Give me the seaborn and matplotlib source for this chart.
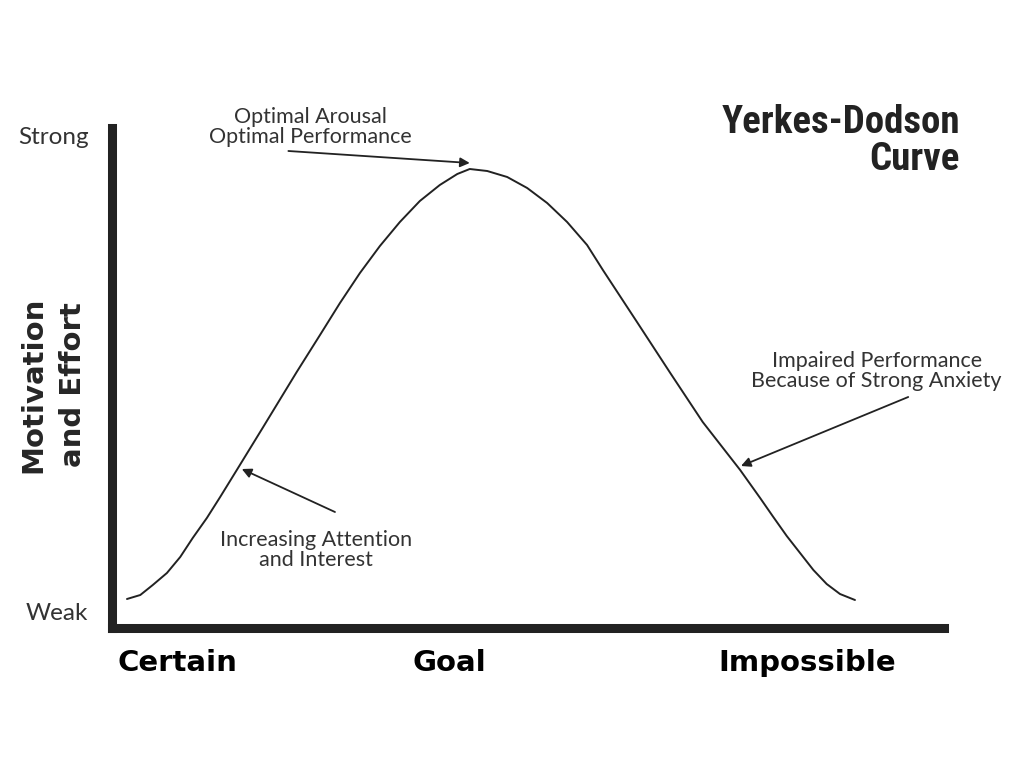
import matplotlib
matplotlib.use("Agg")
import matplotlib.pyplot as plt
import seaborn as sns
import pandas as pd

# Curve: x = goal difficulty (0-100), y = motivation (0-100)
difficulty = [1.8, 3.4, 4.9, 6.6, 8.2, 9.7, 11.4, 13.0, 15.0, 18.1, 22.2, 25.0, 27.4,
              29.8, 32.2, 34.6, 37.0, 39.4, 41.5, 43.0, 45.1, 47.5, 49.9, 52.3, 54.7,
              57.1, 59.0, 63.1, 67.1, 71.0, 75.5, 77.9, 79.4, 81.1, 82.7, 84.3, 85.9,
              87.5, 89.3]
motivation = [5.8, 6.6, 8.6, 11.0, 14.2, 18.0, 22.0, 26.2, 31.6, 40.0, 51.2, 58.6, 65.0,
              71.0, 76.4, 81.2, 85.4, 88.6, 90.8, 91.8, 91.4, 90.2, 88.0, 85.0, 81.2,
              76.6, 71.6, 61.2, 51.0, 41.2, 31.6, 26.0, 22.4, 18.4, 15.0, 11.6, 8.8,
              6.8, 5.6]

x_tick_pos = [7.9, 40.5, 83.5]
x_tick_labels = ["Certain", "Goal", "Impossible"]
y_tick_pos = [3.2, 98.6]
y_tick_labels = ["Weak", "Strong"]

# annotation text, text anchor, arrow tail, arrow tip
notes = [
    ("Optimal Arousal\nOptimal Performance", (23.8, 100.2), (21.2, 95.4), (43.0, 93.0)),
    ("Increasing Attention\nand Interest", (24.5, 15.6), (26.8, 23.2), (15.6, 31.8)),
    ("Impaired Performance\nBecause of Strong Anxiety", (91.9, 51.4), (95.7, 46.2), (75.6, 32.4)),
]

df = pd.DataFrame({"difficulty": difficulty, "motivation": motivation})

sns.set_theme(style="white")
plt.rcParams["font.family"] = ["Lato", "DejaVu Sans"]

W, H = 1024, 768
fig = plt.figure(figsize=(10.24, 7.68), dpi=100)
# axes box in pixels: left 112, right 944, top 128, bottom 628
ax = fig.add_axes([112 / W, (H - 628) / H, (944 - 112) / W, (628 - 128) / H])

sns.lineplot(data=df, x="difficulty", y="motivation", color="#222222", linewidth=1.4, ax=ax)

ax.set_xlim(0, 100)
ax.set_ylim(0, 100)

for side in ["top", "right"]:
    ax.spines[side].set_visible(False)
for side in ["left", "bottom"]:
    ax.spines[side].set_linewidth(6.5)
    ax.spines[side].set_color("#222222")
    ax.spines[side].set_capstyle("projecting")

ax.set_xticks(x_tick_pos)
ax.set_xticklabels(x_tick_labels, fontsize=21, fontweight="bold",
                   family=["DejaVu Sans"], color="black")
ax.set_yticks(y_tick_pos)
ax.set_yticklabels(y_tick_labels, fontsize=17.5, color="#333333")
ax.tick_params(axis="x", length=0, pad=15)
ax.tick_params(axis="y", length=0, pad=17)
ax.set_xlabel("")
ax.set_ylabel("")

for text, txy, tail, tip in notes:
    ax.text(txy[0], txy[1], text, ha="center", va="center", fontsize=15.5,
            color="#333333", linespacing=0.95)
    ax.annotate("", xy=tip, xytext=tail,
                arrowprops=dict(arrowstyle="-|>", color="#222222", lw=1.3,
                                mutation_scale=14, shrinkA=0, shrinkB=0))

fig.text(53 / W, 1 - 385 / H, "Motivation\nand Effort", rotation=90,
         ha="center", va="center", fontsize=21, fontweight="bold",
         family=["DejaVu Sans"], linespacing=1.55)

fig.text(960 / W, 1 - 104 / H, "Yerkes-Dodson\nCurve", ha="right", va="top",
         fontsize=28, fontweight="bold", fontstretch="condensed",
         family=["Roboto Condensed", "Liberation Sans Narrow", "Roboto", "DejaVu Sans"],
         color="#222222", linespacing=1.0)

fig.savefig("out.png", dpi=100, facecolor="white")
